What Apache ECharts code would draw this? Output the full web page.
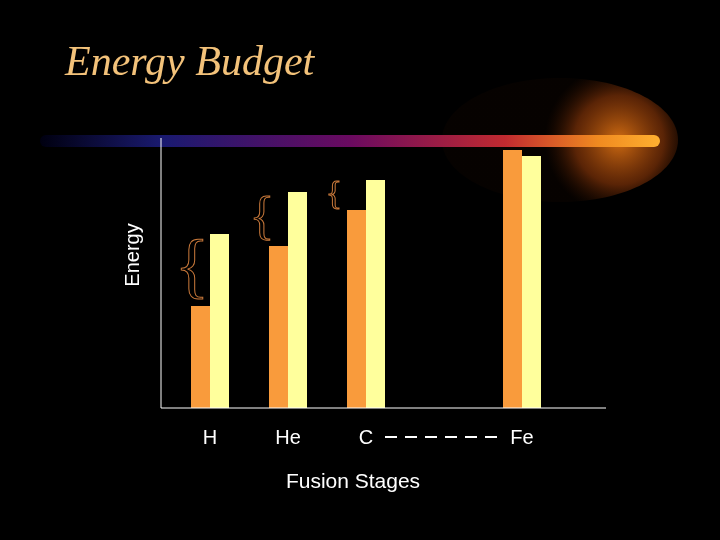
<!DOCTYPE html>
<html><head><meta charset="utf-8">
<script src="https://cdn.jsdelivr.net/npm/echarts@6/dist/echarts.min.js"></script>
<style>html,body{margin:0;background:#000}#c{width:720px;height:540px}</style>
</head><body><div id="c"></div>
<script>
const categories = ["H","He","C","","Fe"];
const startEnergy = [102,162,198,null,258];
const endEnergy = [174,216,228,null,252];
const chart = echarts.init(document.getElementById('c'));
chart.setOption({
  backgroundColor:'#000',
  animation:false,
  title:{text:'Energy Budget',left:60,top:38,textStyle:{fontFamily:'Liberation Serif',fontStyle:'italic',fontWeight:'normal',fontSize:42,color:'#f3c27a'}},
  graphic:[
    {type:'ellipse',shape:{cx:560,cy:140,rx:118,ry:62},style:{fill:{type:'radial',x:0.75,y:0.5,r:0.6,colorStops:[{offset:0,color:'rgba(230,120,20,0.9)'},{offset:0.6,color:'rgba(150,60,10,0.6)'},{offset:1,color:'rgba(60,20,0,0.1)'}]}},z:0},
    {type:'rect',shape:{x:40,y:135,width:620,height:12,r:6},style:{fill:{type:'linear',x:0,y:0,x2:1,y2:0,colorStops:[{offset:0,color:'#000010'},{offset:0.2,color:'#1a1a70'},{offset:0.5,color:'#6a0a60'},{offset:0.75,color:'#c02a30'},{offset:0.9,color:'#f08a20'},{offset:1,color:'#ffb030'}]}},z:1},
    {type:'line',shape:{x1:161,y1:138,x2:161,y2:408},style:{stroke:'#fff',lineWidth:1},z:5},
    {type:'line',shape:{x1:161,y1:408,x2:606,y2:408},style:{stroke:'#fff',lineWidth:1},z:5},
    {type:'line',shape:{x1:385,y1:437,x2:502,y2:437},style:{stroke:'#fff',lineWidth:2,lineDash:[12,8]},z:5},
    {type:'text',x:192,y:270,style:{text:'{',font:'72px Liberation Serif',fill:'none',stroke:'#c8783a',lineWidth:1,align:'center',verticalAlign:'middle'},z:5},
    {type:'text',x:262,y:219,style:{text:'{',font:'52px Liberation Serif',fill:'none',stroke:'#c8783a',lineWidth:1,align:'center',verticalAlign:'middle'},z:5},
    {type:'text',x:334,y:195,style:{text:'{',font:'34px Liberation Serif',fill:'none',stroke:'#c8783a',lineWidth:1,align:'center',verticalAlign:'middle'},z:5}
  ],
  grid:{left:171,right:159,top:138,bottom:132},
  xAxis:{type:'category',data:categories,axisLine:{show:false},axisTick:{show:false},
    axisLabel:{color:'#fff',fontSize:20,fontFamily:'Liberation Sans',margin:20},
    name:'Fusion Stages',nameLocation:'middle',nameGap:64,nameTextStyle:{color:'#fff',fontSize:21,fontFamily:'Liberation Sans',padding:[0,26,0,0]}},
  yAxis:{type:'value',min:0,max:270,axisLine:{show:false},axisTick:{show:false},axisLabel:{show:false},splitLine:{show:false},
    name:'Energy',nameLocation:'middle',nameGap:28,nameTextStyle:{color:'#fff',fontSize:20,fontFamily:'Liberation Sans',padding:[0,0,0,36]}},
  series:[
    {type:'bar',data:startEnergy,barWidth:19,barGap:'0%',itemStyle:{color:'#f99b3c'},z:3},
    {type:'bar',data:endEnergy,barWidth:19,barGap:'0%',itemStyle:{color:'#ffff9c'},z:3}
  ]
});
</script></body></html>
